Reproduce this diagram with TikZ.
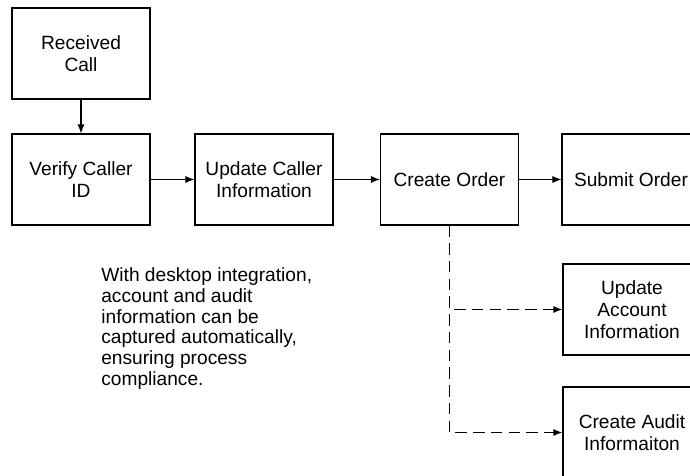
\documentclass[tikz,border=0pt]{standalone}
\usepackage{fontspec}
\setmainfont{Liberation Sans}
\usetikzlibrary{arrows.meta}

\begin{document}
\begin{tikzpicture}[
  x=0.02cm, y=-0.02cm,
  font=\fontsize{10.9}{12.4}\selectfont,
  every node/.style={align=center},
  box/.style={draw=black, line width=0.6pt, rectangle, minimum width=2.76cm, minimum height=1.82cm, inner sep=2pt},
  arr/.style={-{Latex[length=1.8mm, width=1.4mm]}, line width=0.6pt},
  darr/.style={arr, line width=0.75pt, dash pattern=on 6.5pt off 3.6pt},
  note/.style={align=left, anchor=north west, inner sep=0pt}
]
\useasboundingbox (0,0) rectangle (690,476);

% top: incoming call
\node[box] (recv) at (81, 53.5) {Received\\Call};

% main row
\node[box] (verify)    at (81,  179.5) {Verify Caller\\ID};
\node[box] (updcaller) at (264, 179.5) {Update Caller\\Information};
\node[box] (order)     at (449.5, 179.5) {Create Order};
\node[box] (submit)    at (631, 179.5) {Submit Order};

\draw[arr] (recv) -- (verify);
\draw[arr] (verify) -- (updcaller);
\draw[arr] (updcaller) -- (order);
\draw[arr] (order) -- (submit);

% captured automatically (dashed branches)
\node[box] (account) at (632, 309.5) {Update\\Account\\Information};
\node[box] (audit)   at (632, 432.5) {Create Audit\\Informaiton};

\draw[darr] (order.south) |- (account.west);
\draw[darr] (order.south) |- (audit.west);

% side note
\node[note, font=\fontsize{10.9}{11.9}\selectfont] (remark) at (101, 267) {%
  With desktop integration,\\
  account and audit\\
  information can be\\
  captured automatically,\\
  ensuring process\\
  compliance.};

\end{tikzpicture}
\end{document}
